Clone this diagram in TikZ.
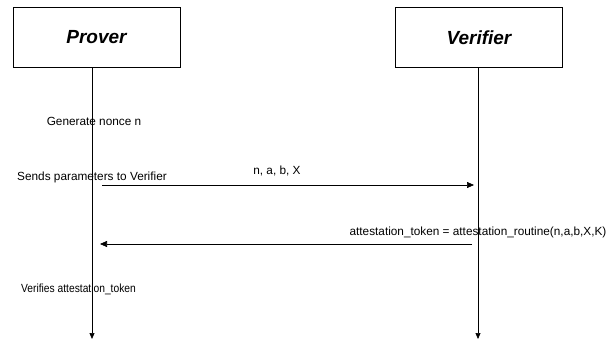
\documentclass[tikz,border=0pt]{standalone}
\usepackage{graphicx}
\usepackage{fontspec}
\setmainfont{Liberation Sans}
\usetikzlibrary{arrows.meta}
\begin{document}
\begin{tikzpicture}[x=1pt,y=-1pt,
  actor/.style={draw, line width=0.8pt, minimum width=167pt, minimum height=60pt, inner sep=0pt, font=\fontsize{19}{22}\selectfont\bfseries\itshape},
  life/.style={line width=0.7pt, -{Triangle[length=6pt,width=5pt]}},
  msg/.style={line width=0.7pt, -{Triangle[length=7pt,width=6pt]}},
  lbl/.style={font=\fontsize{11.8}{13}\selectfont, inner sep=0pt, anchor=base}]
\useasboundingbox (0,0) rectangle (613,339);
\node[actor] (prover) at (96.5,37.5) {Prover};
\node[actor] (verifier) at (479,37.5) {Verifier};
\coordinate (pend) at (92,339);
\coordinate (vend) at (478,339);
\draw[life] (prover.south -| pend) -- (pend);
\draw[life] (verifier.south -| vend) -- (vend);
\node[lbl] (gen) at (94,126) {Generate nonce n};
\node[lbl] (send) at (92,181) {Sends parameters to Verifier};
\coordinate (a1s) at (102,185);
\coordinate (a1e) at (474,185);
\draw[msg] (a1s) -- (a1e);
\node[lbl] (params) at (277,175) {n, a, b, X};
\coordinate (a2s) at (472,244);
\coordinate (a2e) at (100,244);
\draw[msg] (a2s) -- (a2e);
\node[lbl] (tok) at (478,236) {attestation\_token = attestation\_routine(n,a,b,X,K)};
\node[lbl] (ver) at (78.5,292) {\scalebox{0.87}[1]{Verifies attestation\_token}};
\end{tikzpicture}
\end{document}
